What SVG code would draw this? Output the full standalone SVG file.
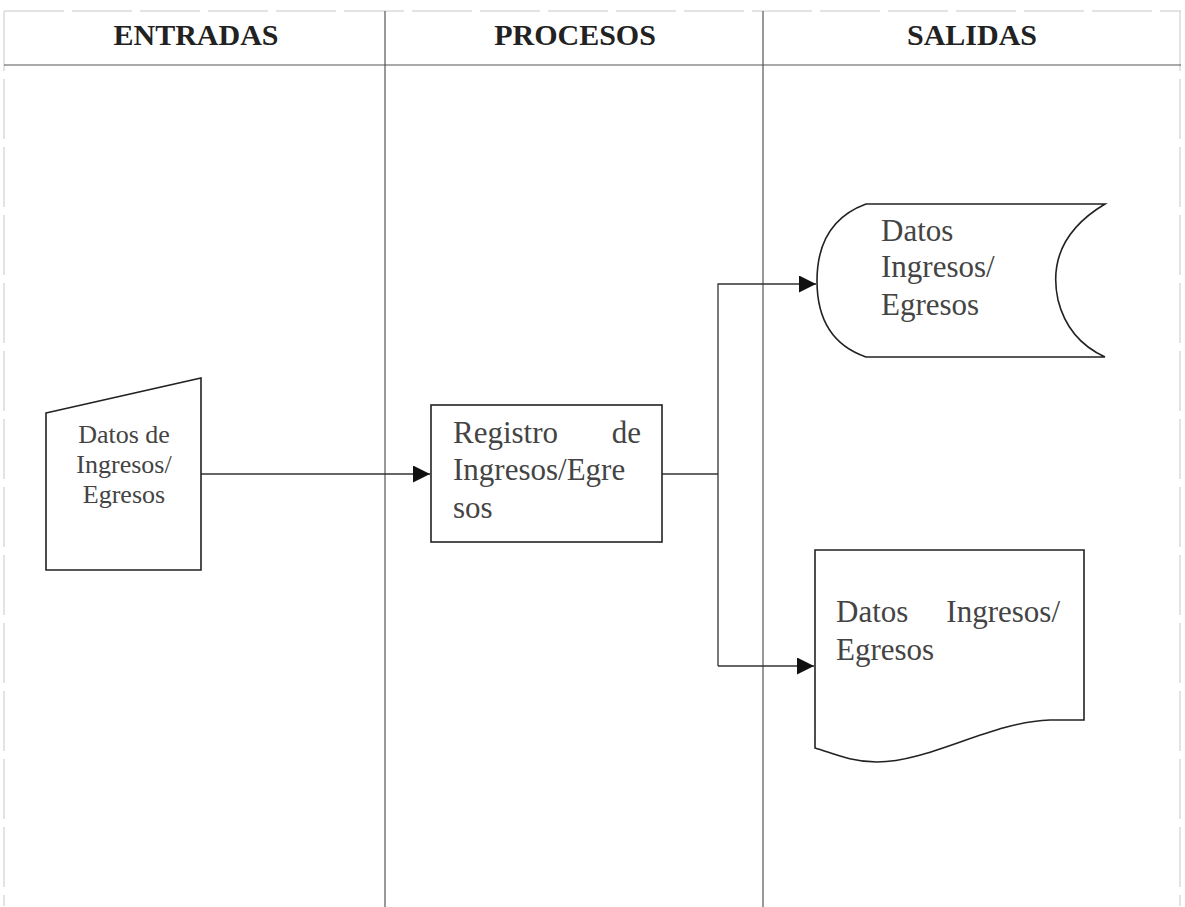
<svg xmlns="http://www.w3.org/2000/svg" width="1185" height="907" viewBox="0 0 1185 907">
<style>
.frame{stroke:#c8c8c8;stroke-width:1;fill:none;stroke-dasharray:60 8}
.grid{stroke:#555;stroke-width:1.2;fill:none}
.hdr{font-family:"Liberation Serif",serif;font-weight:bold;font-size:30px;fill:#222;text-anchor:middle}
.shape{stroke:#222;stroke-width:1.6;fill:#fff}
.t{font-family:"Liberation Serif",serif;fill:#444}
.conn{stroke:#333;stroke-width:1.3;fill:none}
</style>
<defs>
<marker id="arr" viewBox="0 0 10 10" refX="10" refY="5" markerWidth="17" markerHeight="17" markerUnits="userSpaceOnUse" orient="auto">
<path d="M0,0 L10,5 L0,10 z" fill="#111"/>
</marker>
</defs>
<rect width="1185" height="907" fill="#fff"/>
<g id="frame">
<line class="frame" x1="4" y1="11" x2="1181" y2="11"/>
<line class="frame" x1="4" y1="11" x2="4" y2="906"/>
<line class="frame" x1="1180" y1="11" x2="1180" y2="906"/>
<line class="grid" x1="4" y1="65" x2="1181" y2="65"/>
<line class="grid" x1="385" y1="11" x2="385" y2="907"/>
<line class="grid" x1="763" y1="11" x2="763" y2="907"/>
<text class="hdr" x="196" y="45">ENTRADAS</text>
<text class="hdr" x="575" y="45">PROCESOS</text>
<text class="hdr" x="972" y="45">SALIDAS</text>
</g>
<g id="connectors">
<line class="conn" x1="201" y1="474" x2="430" y2="474" marker-end="url(#arr)"/>
<polyline class="conn" points="662,474 718,474"/>
<polyline class="conn" points="718,666 718,284 816,284" marker-end="url(#arr)"/>
<polyline class="conn" points="718,666 814,666" marker-end="url(#arr)"/>
</g>
<g id="input">
<path class="shape" d="M46,413 L201,378 L201,570 L46,570 Z"/>
<text class="t" font-size="26" text-anchor="middle" x="124" y="443">Datos de</text>
<text class="t" font-size="26" text-anchor="middle" x="124" y="473">Ingresos/</text>
<text class="t" font-size="26" text-anchor="middle" x="124" y="503">Egresos</text>
</g>
<g id="process">
<rect class="shape" x="431" y="405" width="231" height="137"/>
<text class="t" font-size="31" x="453" y="443">Registro</text>
<text class="t" font-size="31" x="641" y="443" text-anchor="end">de</text>
<text class="t" font-size="31" x="453" y="480">Ingresos/Egre</text>
<text class="t" font-size="31" x="453" y="518">sos</text>
</g>
<g id="storage">
<path class="shape" d="M866,204 L1105,204 Q1045,240 1058,300 Q1068,340 1105,357 L866,357 Q817,340 817,281 Q817,222 866,204 Z"/>
<text class="t" font-size="31" x="881" y="241">Datos</text>
<text class="t" font-size="31" x="881" y="277">Ingresos/</text>
<text class="t" font-size="31" x="881" y="315">Egresos</text>
</g>
<g id="document">
<path class="shape" d="M815,550 L1084,550 L1084,720 L1050,720 C990,722 930,762 877,762 C850,762 830,752 815,748 Z"/>
<text class="t" font-size="31" x="836" y="622">Datos</text>
<text class="t" font-size="31" x="1060" y="622" text-anchor="end">Ingresos/</text>
<text class="t" font-size="31" x="836" y="660">Egresos</text>
</g>
</svg>
